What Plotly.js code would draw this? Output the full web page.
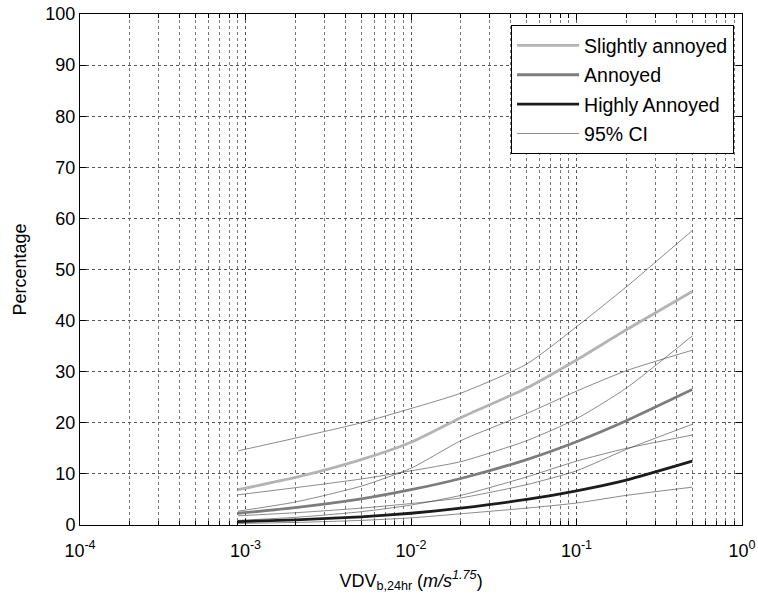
<!DOCTYPE html>
<html>
<head>
<meta charset="utf-8">
<script src="https://cdn.plot.ly/plotly-3.0.1.min.js"></script>
<style>html,body{margin:0;padding:0;background:#fff;}#chart{width:758px;height:603px;}</style>
</head>
<body>
<div id="chart"></div>
<script>
// VDV values (m/s^1.75)
const vdv = [0.0009, 0.002, 0.005, 0.01, 0.02, 0.05, 0.1, 0.2, 0.5];

// Percentages
const slightly      = [6.9, 9.3, 12.8, 16.2, 21.0, 26.8, 32.3, 38.2, 45.7];
const slightlyUpper = [14.5, 17.0, 20.0, 22.8, 25.8, 31.5, 38.8, 46.6, 57.6];
const slightlyLower = [2.7, 4.5, 7.6, 11.1, 16.5, 21.8, 26.2, 30.2, 34.2];

const annoyed      = [2.3, 3.4, 5.1, 6.9, 9.1, 12.8, 16.3, 20.4, 26.5];
const annoyedUpper = [5.9, 7.3, 9.0, 10.6, 12.4, 16.5, 20.8, 26.8, 37.0];
const annoyedLower = [0.9, 1.5, 2.6, 3.9, 5.8, 9.4, 12.5, 15.0, 17.6];

const highly      = [0.65, 1.0, 1.6, 2.3, 3.3, 5.0, 6.7, 8.8, 12.5];
const highlyUpper = [1.8, 2.4, 3.3, 4.2, 5.3, 7.9, 10.6, 14.8, 19.7];
const highlyLower = [0.3, 0.5, 0.9, 1.4, 2.2, 3.3, 4.3, 5.8, 7.4];

const seriesNames = ['Slightly annoyed', 'Annoyed', 'Highly Annoyed', '95% CI'];
const xTickVals = [1e-4, 1e-3, 1e-2, 1e-1, 1];
const xTickText = ['10<sup>-4</sup>', '10<sup>-3</sup>', '10<sup>-2</sup>', '10<sup>-1</sup>', '10<sup>0</sup>'];

const FONT = 'Liberation Sans, Arial, sans-serif';

const ciSets = [slightlyUpper, slightlyLower, annoyedUpper, annoyedLower, highlyUpper, highlyLower];
const traces = [];
ciSets.forEach((ys, i) => {
  traces.push({
    x: vdv, y: ys, type: 'scatter', mode: 'lines',
    name: seriesNames[3], legendgroup: 'ci', showlegend: i === 0, legendrank: 4,
    line: {color: '#3a3a3a', width: 0.6, shape: 'spline', smoothing: 0.6},
    hoverinfo: 'skip'
  });
});
const mains = [[slightly, '#b4b4b4'], [annoyed, '#7d7d7d'], [highly, '#1c1c1c']];
mains.forEach(([ys, col], i) => {
  traces.push({
    x: vdv, y: ys, type: 'scatter', mode: 'lines',
    name: seriesNames[i], legendgroup: 'g' + i, legendrank: i + 1,
    line: {color: col, width: 2.8, shape: 'spline', smoothing: 0.6}
  });
});

// minor tick positions 2..9 in each decade
const minorVals = [];
for (let e = -4; e < 0; e++) for (let k = 2; k <= 9; k++) minorVals.push(k * Math.pow(10, e));

const layout = {
  width: 758, height: 603,
  margin: {l: 80, r: 16, t: 14, b: 78},
  paper_bgcolor: '#fff', plot_bgcolor: '#fff',
  font: {family: FONT, size: 18, color: '#000'},
  showlegend: true,
  legend: {
    x: 0.988, y: 0.978, xanchor: 'right', yanchor: 'top',
    bgcolor: '#fff', bordercolor: '#000', borderwidth: 1,
    font: {family: FONT, size: 19.5, color: '#000'},
    tracegroupgap: 1, itemwidth: 62
  },
  xaxis: {
    type: 'log', range: [-4, 0],
    tickmode: 'array', tickvals: xTickVals, ticktext: xTickText,
    ticks: 'inside', ticklen: 6, tickcolor: '#000',
    ticklabelstandoff: 9,
    showline: true, linecolor: '#000', linewidth: 1, mirror: 'allticks',
    showgrid: true, gridcolor: '#555', griddash: 'dot', gridwidth: 1,
    zeroline: false,
    minor: {tickmode: 'array', tickvals: minorVals, ticks: 'inside', ticklen: 4, tickcolor: '#000',
            showgrid: true, gridcolor: '#777', griddash: 'dot', gridwidth: 1},
    tickfont: {family: FONT, size: 18, color: '#000'},
    title: {text: 'VDV<sub>b,24hr</sub> (<i>m/s</i><sup><i>1.75</i></sup>)', font: {family: FONT, size: 18, color: '#000'}, standoff: 14}
  },
  yaxis: {
    range: [0, 100], dtick: 10, tick0: 0,
    ticks: 'inside', ticklen: 6, tickcolor: '#000',
    showline: true, linecolor: '#000', linewidth: 1, mirror: 'allticks',
    showgrid: true, gridcolor: '#555', griddash: 'dot', gridwidth: 1,
    zeroline: false,
    tickfont: {family: FONT, size: 18, color: '#000'},
    title: {text: 'Percentage', font: {family: FONT, size: 18, color: '#000'}, standoff: 14}
  }
};

Plotly.newPlot('chart', traces, layout, {displayModeBar: false, staticPlot: true});
</script>
</body>
</html>
